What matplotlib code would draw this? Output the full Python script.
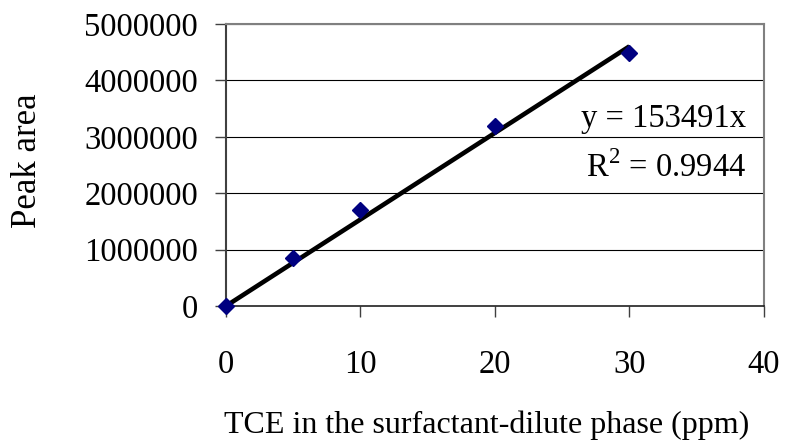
import matplotlib
matplotlib.use("Agg")
import matplotlib.pyplot as plt
import numpy as np

plt.rcParams['font.family'] = ['Liberation Serif', 'DejaVu Serif']
plt.rcParams['mathtext.fontset'] = 'custom'
plt.rcParams['mathtext.rm'] = 'Liberation Serif'

# Calibration data
conc_ppm = [0, 5, 10, 20, 30]
peak_area = [0, 850000, 1700000, 3190000, 4480000]
slope = 153491
r_squared = 0.9944
x_ticks = [0, 10, 20, 30, 40]
y_ticks = [0, 1000000, 2000000, 3000000, 4000000, 5000000]

fig = plt.figure(figsize=(7.85, 4.43), dpi=100)
ax = fig.add_axes([0.2879, 0.3093, 0.6853, 0.6365])

ax.set_xlim(0, 40)
ax.set_ylim(0, 5000000)

for yv in y_ticks[1:]:
    ax.axhline(yv, color='black', lw=0.8, zorder=1)

fit_x = np.array([0, 30])
ax.plot(fit_x, slope * fit_x, color='black', lw=3.3, zorder=3, solid_capstyle='butt')
ax.plot(conc_ppm, peak_area, linestyle='none', marker='D', color='#000080',
        markersize=8.5, zorder=4, clip_on=False)

ax.set_xticks(x_ticks)
ax.set_yticks(y_ticks)
ax.set_xticklabels([str(v) for v in x_ticks])
ax.set_yticklabels([str(v) for v in y_ticks])
ax.tick_params(axis='both', labelsize=23.5, direction='out', length=8, width=1,
               color='#404040')
ax.tick_params(axis='x', pad=23)
ax.tick_params(axis='y', pad=12)

for side in ('top', 'right'):
    ax.spines[side].set_color('#808080')
    ax.spines[side].set_linewidth(1.5)
ax.spines['left'].set_color('#404040')
ax.spines['left'].set_linewidth(1.5)
ax.spines['bottom'].set_color('#202020')
ax.spines['bottom'].set_linewidth(1.2)

ax.text(0.9665, 0.665, 'y = %dx' % slope, transform=ax.transAxes,
        ha='right', va='center', fontsize=23.5)
ax.text(0.9665, 0.49, r'R$^{\mathrm{2}}$ = %.4f' % r_squared, transform=ax.transAxes,
        ha='right', va='center', fontsize=23.5)

fig.text(0.620, 0.04, 'TCE in the surfactant-dilute phase (ppm)', ha='center',
         va='center', fontsize=23)
fig.text(0.035, 0.637, 'Peak area', ha='center', va='center', fontsize=25,
         rotation=90)

fig.savefig('out.png', dpi=100)
